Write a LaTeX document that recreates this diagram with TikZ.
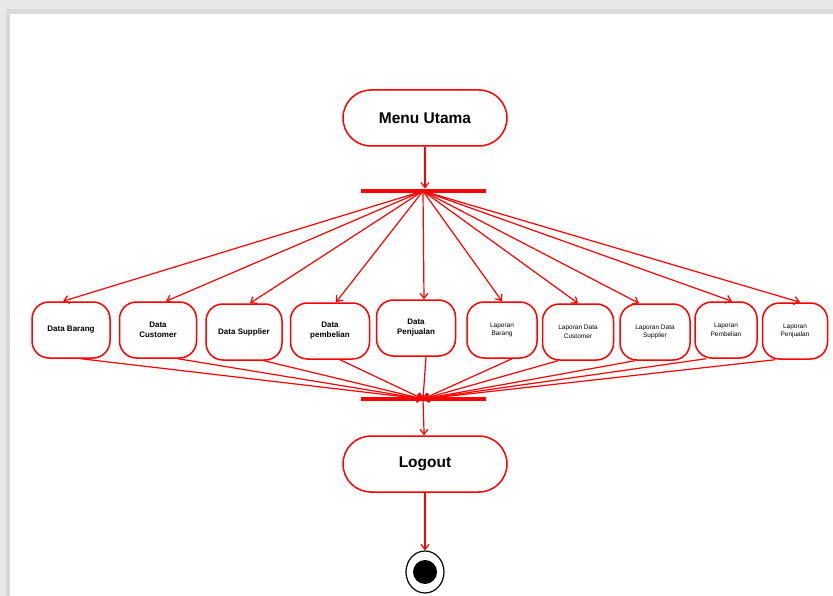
\documentclass[tikz,border=0pt]{standalone}
\usepackage{fontspec}
\setmainfont{Liberation Sans}
\usetikzlibrary{calc,arrows.meta,shapes.geometric}

\tikzset{
  act/.style={draw=red, line width=1.5pt, rounded corners=28pt, fill=white,
    minimum width=164pt, minimum height=56pt, font=\fontsize{15.5}{17}\selectfont\bfseries},
  sub/.style={draw=red, line width=1.5pt, rounded corners=17pt, fill=white,
    minimum height=56pt, align=center, inner sep=1pt},
  dat/.style={sub, font=\fontsize{8}{10}\selectfont\bfseries},
  lap/.style={sub, font=\fontsize{6.5}{8.5}\selectfont},
  bar/.style={fill=red, inner sep=0pt, minimum width=125pt, minimum height=4.5pt},
  flow/.style={draw=red, line width=1.2pt, -{Straight Barb[length=5pt,width=8pt]}},
}

\begin{document}
\begin{tikzpicture}[x=1pt,y=-1pt]
\useasboundingbox (0,0) rectangle (833,596);
% window shadow
\fill[gray!18] (0,0) rectangle (833,596);
\fill[gray!30] (6,9) rectangle (833,596);
\fill[white] (10,14) rectangle (833,596);

\node[act] (menu) at (425,118) {Menu Utama};
\node[bar] (fork) at (423,191) {};

\node[dat, minimum width=78pt] (brg) at (71,330) {Data Barang};
\node[dat, minimum width=77pt] (cus) at (158,330) {Data\\Customer};
\node[dat, minimum width=76pt] (sup) at (244,332) {Data Supplier};
\node[dat, minimum width=79pt] (bel) at (330,331) {Data\\pembelian};
\node[dat, minimum width=79pt] (jul) at (416,328) {Data\\Penjualan};
\node[lap, minimum width=70pt] (lbrg) at (502,330) {Laporan\\Barang};
\node[lap, minimum width=71pt] (lcus) at (578,332) {Laporan Data\\Customer};
\node[lap, minimum width=70pt] (lsup) at (655,332) {Laporan Data\\Supplier};
\node[lap, minimum width=62pt] (lbel) at (726,330) {Laporan\\Pembelian};
\node[lap, minimum width=65pt] (ljul) at (795,331) {Laporan\\Penjualan};

\node[bar] (join) at (423,399) {};
\node[act] (out) at (425,464) {Logout};
\node[draw, ellipse, line width=1.2pt, minimum width=38pt, minimum height=42pt] (fin) at (425,572) {};
\node[fill, circle, inner sep=0pt, minimum size=24pt] (dot) at (fin.center) {};

\draw[flow] (menu) -- (menu|-fork.north);
\draw[flow] (fork.center) -- ($(brg.north)+(-8,0)$);
\draw[flow] (fork.center) -- ($(cus.north)+(8,0)$);
\draw[flow] (fork.center) -- ($(sup.north)+(6,0)$);
\draw[flow] (fork.center) -- ($(bel.north)+(6,0)$);
\draw[flow] (fork.center) -- ($(jul.north)+(8,0)$);
\draw[flow] (fork.center) -- (lbrg.north);
\draw[flow] (fork.center) -- (lcus.north);
\draw[flow] (fork.center) -- ($(lsup.north)+(-16,0)$);
\draw[flow] (fork.center) -- ($(lbel.north)+(6,0)$);
\draw[flow] (fork.center) -- ($(ljul.north)+(5,0)$);

\draw[flow] ($(brg.south)+(10,0)$) -- (join.center);
\draw[flow] ($(cus.south)+(20,0)$) -- (join.center);
\draw[flow] ($(sup.south)+(20,0)$) -- (join.center);
\draw[flow] ($(bel.south)+(10,0)$) -- (join.center);
\draw[flow] ($(jul.south)+(10,0)$) -- (join.center);
\draw[flow] ($(lbrg.south)+(10,0)$) -- (join.center);
\draw[flow] ($(lcus.south)+(-20,0)$) -- (join.center);
\draw[flow] ($(lsup.south)+(-20,0)$) -- (join.center);
\draw[flow] ($(lbel.south)+(-20,0)$) -- (join.center);
\draw[flow] ($(ljul.south)+(-20,0)$) -- (join.center);

\draw[flow] (join.center) -- (out);
\draw[flow] (out) -- (fin);
\end{tikzpicture}
\end{document}
